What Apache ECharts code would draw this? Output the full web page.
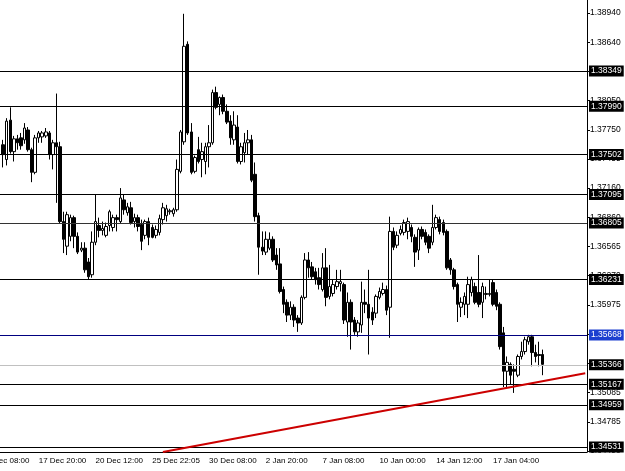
<!DOCTYPE html>
<html>
<head>
<meta charset="utf-8">
<script src="https://cdn.jsdelivr.net/npm/echarts@6/dist/echarts.min.js"></script>
<style>
  html, body { margin: 0; padding: 0; background: #fff; }
  #chart { width: 625px; height: 471px; }
</style>
</head>
<body>
<div id="chart"></div>
<script>
// H4 bars, [open, close, low, high]
const ohlc = [
  [1.3760,1.3750,1.3737,1.3765],[1.3745,1.3784,1.3739,1.3787],[1.3785,1.3753,1.3751,1.3798],
  [1.3753,1.3766,1.3743,1.3769],[1.3766,1.3762,1.3755,1.3770],[1.3767,1.3759,1.3755,1.3772],
  [1.3765,1.3777,1.3761,1.3782],[1.3775,1.3755,1.3753,1.3778],[1.3755,1.3732,1.3722,1.3757],
  [1.3732,1.3767,1.3730,1.3770],[1.3767,1.3772,1.3762,1.3774],[1.3768,1.3772,1.3762,1.3774],
  [1.3769,1.3773,1.3767,1.3777],[1.3772,1.3750,1.3745,1.3774],[1.3750,1.3762,1.3735,1.3765],
  [1.3762,1.3758,1.3701,1.3812],[1.3758,1.3682,1.3680,1.3763],[1.3682,1.3664,1.3650,1.3692],
  [1.3657,1.3689,1.3648,1.3692],[1.3667,1.3686,1.3662,1.3689],[1.3686,1.3667,1.3655,1.3688],
  [1.3667,1.3651,1.3649,1.3671],[1.3653,1.3655,1.3651,1.3661],[1.3655,1.3633,1.3630,1.3661],
  [1.3641,1.3626,1.3623,1.3645],[1.3628,1.3661,1.3625,1.3672],[1.3661,1.3682,1.3658,1.3709],
  [1.3678,1.3673,1.3666,1.3686],[1.3673,1.3675,1.3668,1.3682],[1.3668,1.3677,1.3666,1.3681],
  [1.3678,1.3692,1.3672,1.3694],[1.3676,1.3686,1.3672,1.3689],[1.3686,1.3684,1.3672,1.3689],
  [1.3682,1.3706,1.3680,1.3716],[1.3704,1.3694,1.3689,1.3709],[1.3691,1.3697,1.3688,1.3701],
  [1.3696,1.3681,1.3679,1.3702],[1.3682,1.3686,1.3676,1.3690],[1.3686,1.3677,1.3672,1.3689],
  [1.3679,1.3662,1.3653,1.3684],[1.3668,1.3682,1.3664,1.3684],[1.3682,1.3666,1.3658,1.3686],
  [1.3676,1.3666,1.3665,1.3679],[1.3668,1.3674,1.3665,1.3678],[1.3671,1.3685,1.3668,1.3689],
  [1.3684,1.3696,1.3679,1.3701],[1.3688,1.3695,1.3682,1.3699],[1.3692,1.3693,1.3689,1.3695],
  [1.3690,1.3694,1.3687,1.3696],[1.3694,1.3735,1.3692,1.3745],[1.3733,1.3773,1.3731,1.3775],
  [1.3763,1.3860,1.3760,1.3893],[1.3862,1.3772,1.3770,1.3865],[1.3773,1.3732,1.3730,1.3782],
  [1.3733,1.3747,1.3731,1.3749],[1.3755,1.3743,1.3741,1.3768],[1.3745,1.3753,1.3727,1.3762],
  [1.3743,1.3758,1.3730,1.3762],[1.3758,1.3762,1.3737,1.3780],[1.3762,1.3813,1.3760,1.3816],
  [1.3813,1.3798,1.3796,1.3819],[1.3801,1.3808,1.3790,1.3809],[1.3808,1.3794,1.3791,1.3811],
  [1.3794,1.3783,1.3781,1.3801],[1.3784,1.3767,1.3760,1.3790],[1.3765,1.3780,1.3760,1.3794],
  [1.3778,1.3743,1.3741,1.3790],[1.3743,1.3758,1.3740,1.3762],[1.3752,1.3762,1.3742,1.3772],
  [1.3762,1.3765,1.3750,1.3775],[1.3765,1.3724,1.3722,1.3770],[1.3730,1.3687,1.3682,1.3742],
  [1.3688,1.3656,1.3628,1.3691],[1.3656,1.3652,1.3648,1.3672],[1.3651,1.3664,1.3648,1.3672],
  [1.3655,1.3664,1.3653,1.3671],[1.3664,1.3643,1.3641,1.3667],[1.3648,1.3638,1.3633,1.3655],
  [1.3639,1.3611,1.3609,1.3655],[1.3613,1.3598,1.3589,1.3616],[1.3600,1.3587,1.3580,1.3603],
  [1.3587,1.3595,1.3582,1.3601],[1.3595,1.3582,1.3575,1.3598],[1.3584,1.3579,1.3570,1.3587],
  [1.3579,1.3605,1.3577,1.3607],[1.3605,1.3643,1.3603,1.3650],[1.3643,1.3635,1.3625,1.3651],
  [1.3636,1.3626,1.3623,1.3641],[1.3631,1.3623,1.3618,1.3635],[1.3625,1.3618,1.3613,1.3635],
  [1.3613,1.3635,1.3611,1.3650],[1.3635,1.3605,1.3596,1.3655],[1.3606,1.3616,1.3603,1.3638],
  [1.3609,1.3618,1.3606,1.3623],[1.3616,1.3621,1.3613,1.3633],[1.3619,1.3621,1.3611,1.3633],
  [1.3618,1.3582,1.3578,1.3620],[1.3580,1.3600,1.3565,1.3610],[1.3600,1.3580,1.3552,1.3603],
  [1.3582,1.3570,1.3567,1.3585],[1.3570,1.3579,1.3565,1.3582],[1.3577,1.3600,1.3569,1.3621],
  [1.3600,1.3598,1.3589,1.3613],[1.3598,1.3584,1.3547,1.3633],[1.3590,1.3582,1.3577,1.3595],
  [1.3589,1.3606,1.3584,1.3608],[1.3605,1.3611,1.3603,1.3615],[1.3609,1.3613,1.3607,1.3620],
  [1.3613,1.3592,1.3587,1.3617],[1.3595,1.3672,1.3564,1.3687],[1.3672,1.3656,1.3653,1.3676],
  [1.3658,1.3668,1.3655,1.3672],[1.3670,1.3674,1.3668,1.3678],[1.3671,1.3681,1.3668,1.3684],
  [1.3672,1.3682,1.3664,1.3686],[1.3676,1.3667,1.3661,1.3679],[1.3666,1.3651,1.3636,1.3669],
  [1.3653,1.3674,1.3643,1.3676],[1.3674,1.3667,1.3664,1.3677],[1.3671,1.3661,1.3658,1.3674],
  [1.3667,1.3655,1.3650,1.3669],[1.3661,1.3676,1.3658,1.3699],[1.3676,1.3686,1.3674,1.3689],
  [1.3684,1.3672,1.3669,1.3687],[1.3681,1.3671,1.3668,1.3684],[1.3672,1.3635,1.3633,1.3674],
  [1.3643,1.3633,1.3628,1.3645],[1.3633,1.3616,1.3613,1.3635],[1.3618,1.3598,1.3580,1.3620],
  [1.3595,1.3600,1.3585,1.3605],[1.3598,1.3606,1.3587,1.3610],[1.3598,1.3618,1.3584,1.3626],
  [1.3610,1.3623,1.3606,1.3626],[1.3616,1.3600,1.3598,1.3620],[1.3610,1.3598,1.3595,1.3648],
  [1.3600,1.3616,1.3584,1.3620],[1.3608,1.3609,1.3603,1.3616],[1.3608,1.3609,1.3606,1.3623],
  [1.3620,1.3598,1.3596,1.3623],[1.3610,1.3596,1.3592,1.3613],[1.3598,1.3555,1.3552,1.3600],
  [1.3569,1.3530,1.3514,1.3575],[1.3530,1.3539,1.3514,1.3545],[1.3537,1.3526,1.3516,1.3539],
  [1.3532,1.3530,1.3508,1.3537],[1.3526,1.3545,1.3524,1.3547],[1.3545,1.3550,1.3542,1.3560],
  [1.3550,1.3562,1.3547,1.3565],[1.3560,1.3565,1.3557,1.3567],[1.3565,1.3549,1.3535,1.3567],
  [1.3549,1.3545,1.3539,1.3557],[1.3547,1.3546,1.3535,1.3560],[1.3547,1.3537,1.3526,1.3552]
]

// time labels and the bar they sit on (first one is partly off screen)
const timeLabels = ['13 Dec 08:00', '17 Dec 20:00', '20 Dec 12:00', '25 Dec 22:05', '30 Dec 08:00',
  '2 Jan 20:00', '7 Jan 08:00', '10 Jan 00:00', '14 Jan 12:00', '17 Jan 04:00']
const timeBars = [-6, 10, 26, 42, 58, 74, 90, 106, 122, 138]

// price scale labels on the right
const priceTicks = [1.38940, 1.38640, 1.38350, 1.38050, 1.37750, 1.37455, 1.37160, 1.36860,
  1.36565, 1.36270, 1.35975, 1.35680, 1.35380, 1.35085, 1.34785, 1.34490]

// horizontal levels
const levels = [1.38349, 1.37990, 1.37502, 1.37095, 1.36805, 1.36231, 1.35668, 1.35366, 1.35167, 1.34959, 1.34531]
const levelColors = ['#000', '#000', '#000', '#000', '#333', '#000', '#000080', '#c0c0c0', '#000', '#000', '#000']
const levelBoxes = ['#000', '#000', '#000', '#000', '#000', '#000', '#1c3fd0', '#000', '#000', '#000', '#000']

// red trend line, bar index / price
const trendBars = [45, 164]
const trendPrices = [1.3448, 1.3528]

const PAD = 6
const TOTAL = 165

const cats = new Array(PAD + TOTAL).fill('')
timeLabels.forEach((t, k) => { cats[timeBars[k] + PAD] = t })
const candleData = cats.map((_, i) => {
  const b = i - PAD
  return b >= 0 && b < ohlc.length ? ohlc[b] : '-'
})

const slot = 587 / (TOTAL + 0.4)
const gridLeft = 587 - slot * (PAD + TOTAL)

const chart = echarts.init(document.getElementById('chart'))
const font = 'Liberation Sans, Arial, sans-serif'
const showLabel = (i, v) => v !== ''

chart.setOption({
  animation: false,
  backgroundColor: '#fff',
  grid: { left: gridLeft, right: 38, top: 0, bottom: 19, containLabel: false, outerBoundsMode: 'none' },
  xAxis: {
    type: 'category',
    data: cats,
    boundaryGap: true,
    axisLine: { lineStyle: { color: '#000', width: 1 } },
    axisTick: { alignWithLabel: true, interval: showLabel, length: 3, lineStyle: { color: '#000' } },
    axisLabel: { interval: showLabel, align: 'left', color: '#000', fontSize: 8, fontFamily: font, margin: 5 },
    splitLine: { show: false }
  },
  yAxis: {
    type: 'value',
    position: 'right',
    min: 1.3448,
    max: 1.3907,
    splitLine: { show: false },
    axisLine: { show: true, lineStyle: { color: '#000', width: 1 } },
    axisTick: { show: true, customValues: priceTicks, length: 3, lineStyle: { color: '#000' } },
    axisLabel: {
      customValues: priceTicks,
      formatter: v => v.toFixed(5),
      color: '#000', fontSize: 8.5, fontFamily: font, margin: 3
    }
  },
  series: [{
    type: 'candlestick',
    data: candleData,
    barWidth: 3,
    itemStyle: {
      color: '#fff', color0: '#000',
      borderColor: '#000', borderColor0: '#000', borderWidth: 1
    },
    emphasis: { disabled: true },
    markLine: {
      silent: true,
      precision: 5,
      symbol: ['none', 'none'],
      animation: false,
      data: levels.map((v, k) => ({
        yAxis: v,
        lineStyle: { color: levelColors[k], width: 1, type: 'solid' },
        label: {
          show: true, position: 'end', distance: 2,
          formatter: () => v.toFixed(5),
          color: '#fff', backgroundColor: levelBoxes[k],
          fontSize: 8.5, fontFamily: font, padding: [1, 2, 1, 2]
        }
      })).concat([[
        { coord: [trendBars[0] + PAD, trendPrices[0]], lineStyle: { color: '#cc0000', width: 2, type: 'solid' }, label: { show: false } },
        { coord: [trendBars[1] + PAD, trendPrices[1]] }
      ]])
    }
  }]
})
</script>
</body>
</html>
